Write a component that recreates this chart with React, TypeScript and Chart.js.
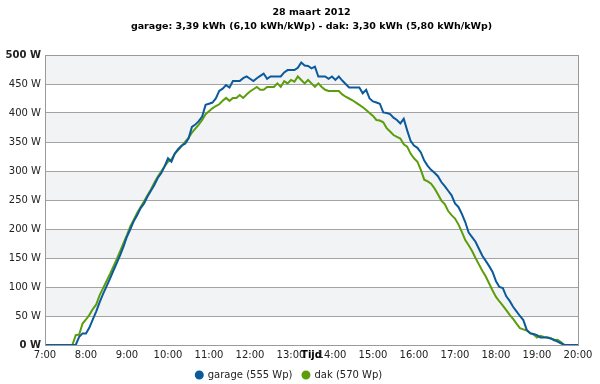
import React, { useEffect, useRef } from "react";
import { Chart, registerables } from "chart.js";

Chart.register(...registerables);

const titleLines = ["28 maart 2012", "garage: 3,39 kWh (6,10 kWh/kWp) - dak: 3,30 kWh (5,80 kWh/kWp)"];
const seriesNames = ["garage (555 Wp)", "dak (570 Wp)"];
const xAxisTitle = "Tijd";
const startHour = 7;
const endHour = 20;
const stepMinutes = 5;

// garage, W per 5 minutes from 7:00 to 20:00
const garage = [
  0, 0, 0, 0, 0, 0, 0, 0, 0, 0, 14, 20,
  20, 30, 44, 58, 74, 88, 101, 114, 128, 141, 155, 170,
  187, 200, 214, 224, 236, 244, 256, 266, 276, 288, 296, 308,
  322, 316, 330, 338, 344, 347, 356, 376, 380, 386, 394, 414,
  416, 418, 425, 438, 442, 448, 444, 455, 455, 455, 460, 463,
  459, 455, 460, 464, 468, 459, 463, 463, 463, 463, 470, 474,
  474, 474, 478, 487, 482, 481, 477, 480, 463, 463, 463, 459,
  463, 457, 463, 456, 450, 444, 444, 444, 444, 434, 440, 425,
  420, 418, 416, 401, 400, 398, 392, 388, 382, 390, 370, 352,
  344, 340, 332, 318, 309, 302, 297, 291, 281, 274, 266, 258,
  244, 238, 226, 212, 194, 186, 178, 166, 154, 145, 136, 126,
  110, 100, 98, 84, 76, 66, 58, 50, 43, 26, 20, 19,
  17, 13, 13, 13, 11, 9, 6, 3, 0, 0, 0, 0,
  0,
];

// dak, W per 5 minutes from 7:00 to 20:00
const dak = [
  0, 0, 0, 0, 0, 0, 0, 0, 0, 17, 18, 37,
  44, 52, 62, 70, 86, 98, 110, 122, 135, 148, 162, 176,
  190, 205, 216, 228, 238, 248, 258, 268, 280, 290, 299, 308,
  316, 320, 330, 336, 343, 350, 357, 366, 373, 380, 388, 398,
  403, 408, 412, 415, 421, 426, 421, 426, 426, 431, 426, 432,
  437, 441, 445, 440, 440, 445, 445, 445, 451, 445, 455, 451,
  457, 454, 463, 457, 451, 457, 451, 445, 451, 445, 440, 438,
  438, 438, 438, 432, 428, 425, 422, 418, 414, 410, 405, 400,
  395, 388, 387, 384, 374, 368, 362, 359, 356, 346, 342, 330,
  322, 316, 302, 285, 282, 278, 270, 260, 249, 243, 231, 224,
  218, 208, 195, 181, 172, 162, 150, 139, 128, 118, 106, 94,
  83, 75, 68, 60, 52, 45, 37, 29, 27, 25, 21, 18,
  13, 16, 14, 13, 12, 8, 9, 5, 0, 0, 0, 0,
  0,
];

const yMax = 500;
const yStep = 50;

const hours = garage.map((_, i) => startHour + (i * stepMinutes) / 60);

const FONT = "'DejaVu Sans', Verdana, sans-serif";

const bandsPlugin = {
  id: "bands",
  beforeDraw(chart: any) {
    const { ctx, chartArea, scales } = chart;
    ctx.save();
    ctx.fillStyle = "#ffffff";
    ctx.fillRect(0, 0, chart.width, chart.height);
    const y = scales.y;
    ctx.fillStyle = "#f2f3f5";
    for (let v = yStep; v < yMax; v += yStep * 2) {
      const top = y.getPixelForValue(v + yStep);
      const bot = y.getPixelForValue(v);
      ctx.fillRect(chartArea.left, top, chartArea.right - chartArea.left, bot - top);
    }
    ctx.restore();
  },
  afterDraw(chart: any) {
    const { ctx, chartArea } = chart;
    ctx.save();
    ctx.strokeStyle = "#9a9a9a";
    ctx.lineWidth = 1;
    ctx.strokeRect(
      Math.round(chartArea.left) + 0.5,
      Math.round(chartArea.top) + 0.5,
      Math.round(chartArea.right - chartArea.left),
      Math.round(chartArea.bottom - chartArea.top)
    );
    ctx.restore();
  },
};

export default function App() {
  const ref = useRef<HTMLCanvasElement | null>(null);
  useEffect(() => {
    document.body.style.margin = "0";
    if (!ref.current) return;
    const chart = new Chart(ref.current, {
      type: "line",
      data: {
        datasets: [
          {
            label: seriesNames[0],
            data: hours.map((h, i) => ({ x: h, y: garage[i] })),
            borderColor: "#0b5a9c",
            backgroundColor: "#0b5a9c",
            borderWidth: 2,
            pointRadius: 0,
            tension: 0,
          },
          {
            label: seriesNames[1],
            data: hours.map((h, i) => ({ x: h, y: dak[i] })),
            borderColor: "#5c9d0c",
            backgroundColor: "#5c9d0c",
            borderWidth: 2,
            pointRadius: 0,
            tension: 0,
          },
        ],
      },
      plugins: [bandsPlugin],
      options: {
        animation: false,
        responsive: false,
        layout: { padding: { left: 0, right: 22, top: 0, bottom: -6 } },
        plugins: {
          title: {
            display: true,
            fullSize: false,
            text: titleLines,
            color: "#000",
            font: { family: FONT, size: 9.5, weight: "bold", lineHeight: "14px" },
            padding: { top: 5.5, bottom: 21.5 },
          },
          legend: {
            display: true,
            position: "bottom",
            labels: {
              usePointStyle: true,
              pointStyle: "circle",
              boxHeight: 5,
              boxWidth: 7,
              pointStyleWidth: 7,
              padding: 10,
              color: "#222",
              font: { family: FONT, size: 10 },
            },
          },
          tooltip: { enabled: false },
        },
        scales: {
          x: {
            type: "linear",
            min: startHour,
            max: endHour,
            afterFit(scale: any) {
              scale.height = 15;
            },
            grid: { display: false, drawTicks: false },
            border: { display: true, color: "#9a9a9a" },
            ticks: {
              stepSize: 1,
              autoSkip: false,
              maxRotation: 0,
              padding: 4,
              color: "#222",
              font: { family: FONT, size: 10 },
              callback: (v: any) => `${v}:00`,
            },
            title: {
              display: true,
              text: xAxisTitle,
              color: "#000",
              font: { family: FONT, size: 10, weight: "bold", lineHeight: 1 },
              padding: 0,
            },
          },
          y: {
            type: "linear",
            min: 0,
            max: yMax,
            afterFit(scale: any) {
              scale.width = 45;
            },
            grid: { color: "#a3a3a3", drawTicks: false, lineWidth: 1 },
            border: { display: true, color: "#9a9a9a" },
            ticks: {
              stepSize: yStep,
              padding: 4,
              color: "#222",
              font: (c: any) => ({
                family: FONT,
                size: 10,
                weight: c.tick && (c.tick.value === 0 || c.tick.value === yMax) ? "bold" : "normal",
              }),
              callback: (v: any) => `${v} W`,
            },
          },
        },
      },
    });
    return () => chart.destroy();
  }, []);
  return (
    <div style={{ width: 600, height: 384 }}>
      <canvas ref={ref} width={600} height={384} />
    </div>
  );
}
